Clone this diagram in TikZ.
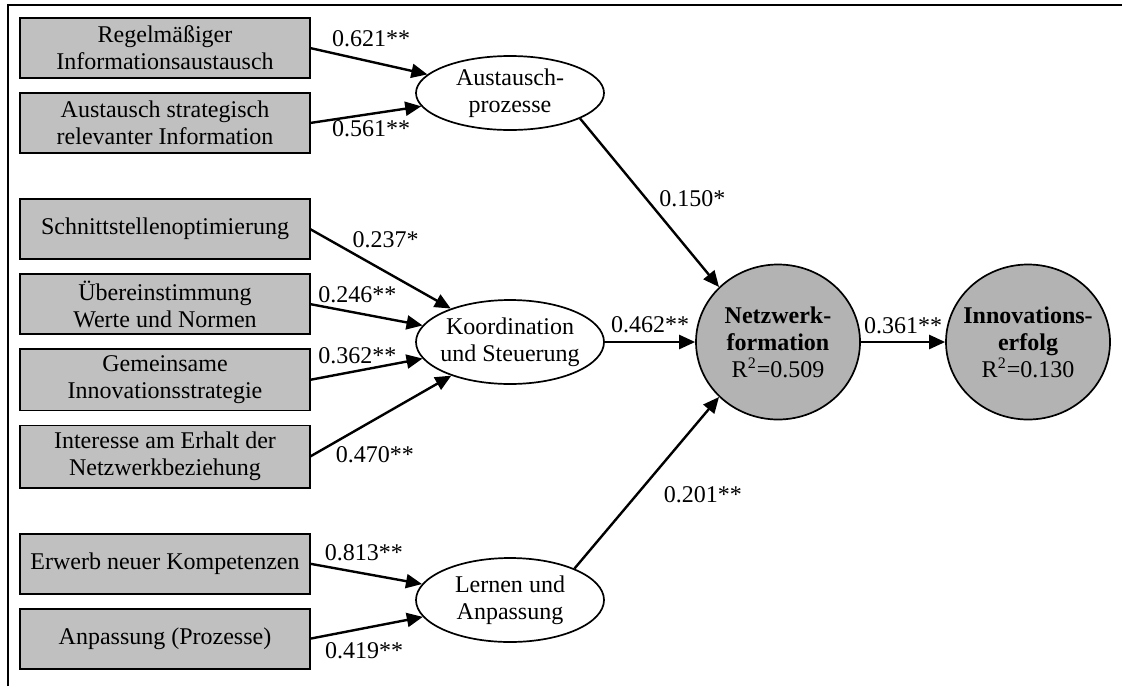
\documentclass[tikz,border=0pt]{standalone}
\usepackage{fontspec}
\setmainfont{Liberation Serif}
\usetikzlibrary{arrows.meta, positioning, shapes.geometric}
\definecolor{boxgray}{RGB}{192,192,192}
\definecolor{circgray}{RGB}{179,179,179}

\begin{document}
\begin{tikzpicture}[
            x = 0.5pt, y = -0.5pt, % one unit = one pixel of the sketch
            > = {Triangle[length=8pt, width=7pt]}, % arrow head style
            font = \fontsize{12}{13.5}\selectfont,
            node distance = 7.5pt, % gap between stacked items
            line width = 1.2pt % line style
        ]
        \tikzstyle{item}=[
            draw = black,
            line width = 0.85pt,
            fill = boxgray,
            minimum width = 145pt,
            minimum height = 30pt,
            align = center,
            outer sep = 0pt
        ]
        \tikzstyle{factor}=[
            ellipse,
            draw = black,
            line width = 0.85pt,
            fill = white,
            minimum width = 94pt,
            minimum height = 42pt,
            inner xsep = -2.5pt,
            inner ysep = 0pt,
            align = center
        ]
        \tikzstyle{target}=[
            factor,
            fill = circgray,
            minimum width = 82pt,
            minimum height = 77.5pt,
            inner xsep = -6pt
        ]
        \tikzstyle{coef}=[inner sep = 1pt]

        \useasboundingbox (0,0) rectangle (1122,686);
        \draw[line width = 1pt] (8,686) |- (1122,5);

        % indicators
        \node[item] (info) at (165,48) {Regelmäßiger\\Informationsaustausch};
        \node[item] (strat) [below=of info] {Austausch strategisch\\relevanter Information};
        \node[item] (schnitt) [below=23pt of strat] {Schnittstellenoptimierung};
        \node[item] (werte) [below=of schnitt] {Übereinstimmung\\Werte und Normen};
        \node[item] (strategie) [below=of werte] {Gemeinsame\\Innovationsstrategie};
        \node[item] (erhalt) [below=of strategie] {Interesse am Erhalt der\\Netzwerkbeziehung};
        \node[item] (kompetenz) [below=23pt of erhalt] {Erwerb neuer Kompetenzen};
        \node[item] (anpass) [below=of kompetenz] {Anpassung (Prozesse)};

        % factors
        \node[factor, minimum height = 37pt] (aus) at (510,93) {Austausch-\\prozesse};
        \node[factor] (koord) at (510,342) {Koordination\\und Steuerung};
        \node[factor] (lern) at (510,600) {Lernen und\\Anpassung};
        \node[target] (netz) at (778,342) {\textbf{Netzwerk-}\\\textbf{formation}\\R\textsuperscript{2}=0.509};
        \node[target] (innov) at (1028,342) {\textbf{Innovations-}\\\textbf{erfolg}\\R\textsuperscript{2}=0.130};

        \path[->] (info.east) edge node[coef, above=6pt, pos=0.52] {0.621**} (aus);
        \path[->] (strat.east) edge node[coef, below=2pt, pos=0.55] {0.561**} (aus);
        \path[->] (schnitt.east) edge node[coef, above right, pos=0.28] {0.237*} (koord);
        \path[->] (werte.east) edge node[coef, above=3.5pt, pos=0.42] {0.246**} (koord);
        \path[->] (strategie.east) edge node[coef, above=2pt, pos=0.42] {0.362**} (koord);
        \path[->] (erhalt.east) edge node[coef, below right, pos=0.16] {0.470**} (koord);
        \path[->] (kompetenz.east) edge node[coef, above=4.5pt, pos=0.48] {0.813**} (lern);
        \path[->] (anpass.east) edge node[coef, below=5.5pt, pos=0.48] {0.419**} (lern);

        \path[->] (aus.-20) edge node[coef, right=5pt, pos=0.476] {0.150*} (netz.137);
        \path[->] (koord) edge node[coef, above=3pt] {0.462**} (netz);
        \path[->] (lern.26) edge node[coef, right=12pt, pos=0.43] {0.201**} (netz.-137);
        \path[->] (netz) edge node[coef, above=2.5pt] {0.361**} (innov);
    \end{tikzpicture}
\end{document}
